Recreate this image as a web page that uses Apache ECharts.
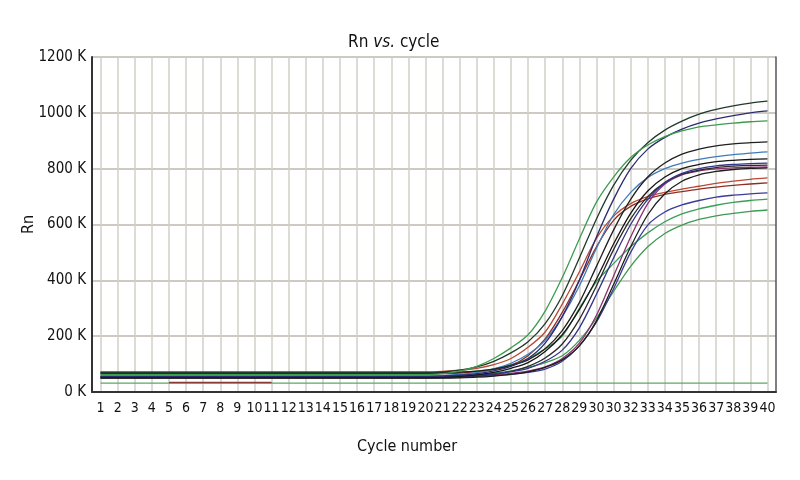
<!DOCTYPE html>
<html>
<head>
<meta charset="utf-8">
<script src="https://cdn.jsdelivr.net/npm/echarts@6/dist/echarts.min.js"></script>
<style>
  html, body { margin: 0; padding: 0; background: #fff; }
  #main { width: 800px; height: 480px; }
</style>
</head>
<body>
<div id="main"></div>
<script>
var myChart = echarts.init(document.getElementById('main'));

// cycles and tick labels (the reference prints "30" twice)
var cycles = [];
for (var i = 1; i <= 40; i++) cycles.push(i);
var xLabels = ['1','2','3','4','5','6','7','8','9','10','11','12','13','14','15','16','17','18','19','20',
  '21','22','23','24','25','26','27','28','29','30','30','32','33','34','35','36','37','38','39','40'];
var yTicks = [0, 200, 400, 600, 800, 1000, 1200];

// Rn values in K, cycles 1..20 are the flat baseline
var greenA = [62,62,62,62,62,62,62,62,62,62,62,62,62,62,62,62,62,62,62,62,
  66,75,92,120,158,205,290,410,548,680,770,840,885,915,935,950,957,963,968,971];
var blackA = [70,70,70,70,70,70,70,70,70,70,70,70,70,70,70,70,70,70,70,70,
  72,78,90,110,140,180,245,345,480,620,740,830,893,938,970,995,1012,1025,1035,1042];
var navyA = [55,55,55,55,55,55,55,55,55,55,55,55,55,55,55,55,55,55,55,55,
  57,60,66,76,92,120,175,270,400,555,690,800,870,912,942,963,978,990,1000,1007];
var blackB = [68,68,68,68,68,68,68,68,68,68,68,68,68,68,68,68,68,68,68,68,
  69,71,75,82,95,115,155,220,320,450,580,690,770,820,852,870,882,889,893,896];
var blueA = [57,57,57,57,57,57,57,57,57,57,57,57,57,57,57,57,57,57,57,57,
  59,63,70,83,103,135,185,270,380,515,635,715,768,800,820,833,843,850,856,860];
var blackC = [52,52,52,52,52,52,52,52,52,52,52,52,52,52,52,52,52,52,52,52,
  53,56,61,70,85,105,145,205,295,405,530,640,720,770,800,815,825,830,833,835];
var navyB = [55,55,55,55,55,55,55,55,55,55,55,55,55,55,55,55,55,55,55,55,
  55,57,60,65,73,85,110,150,230,350,480,600,690,750,783,800,810,815,818,820];
var blackD = [50,50,50,50,50,50,50,50,50,50,50,50,50,50,50,50,50,50,50,50,
  51,53,57,63,74,92,122,172,260,380,510,620,700,750,780,795,804,809,812,813];
var magenta = [56,56,56,56,56,56,56,56,56,56,56,56,56,56,56,56,56,56,56,56,
  56,57,59,62,67,75,90,120,175,275,415,555,675,745,778,792,799,803,805,806];
var redA = [72,72,72,72,72,72,72,72,72,72,72,72,72,72,72,72,72,72,72,72,
  74,78,85,98,120,160,215,315,430,550,630,675,700,715,727,737,747,755,762,767];
var darkRedB = [65,65,65,65,65,65,65,65,65,65,65,65,65,65,65,65,65,65,65,65,
  66,68,72,80,95,130,190,285,400,520,615,665,692,708,718,727,734,740,745,749];
var navyC = [53,53,53,53,53,53,53,53,53,53,53,53,53,53,53,53,53,53,53,53,
  53,54,56,59,63,70,82,110,165,250,370,500,598,645,670,686,698,705,710,713];
var greenB = [66,66,66,66,66,66,66,66,66,66,66,66,66,66,66,66,66,66,66,66,
  67,70,75,83,98,120,155,200,300,395,460,520,570,610,638,656,669,679,686,691];
var greenC = [58,58,58,58,58,58,58,58,58,58,58,58,58,58,58,58,58,58,58,58,
  58,60,63,68,76,88,105,130,185,265,360,450,520,568,598,618,631,640,647,652];
var blackE = [50,50,50,50,50,50,50,50,50,50,50,50,50,50,50,50,50,50,50,50,
  50,51,53,57,63,72,88,115,165,255,385,520,635,710,755,778,790,797,801,803];
var flatGreen = [32,32,32,32,32,32,32,32,32,32,32,32,32,32,32,32,32,32,32,32,
  32,32,32,32,32,32,32,32,32,32,32,32,32,32,32,32,32,32,32,32];
var redSegment = [null,null,null,null,34,34,34,34,34,34,34,null,null,null,null,null,null,null,null,null,
  null,null,null,null,null,null,null,null,null,null,null,null,null,null,null,null,null,null,null,null];

var curves = [
  { data: flatGreen, color: '#5fa862' },
  { data: redSegment, color: '#8a3a34' },
  { data: greenC, color: '#3f9a52' },
  { data: greenB, color: '#3a9d58' },
  { data: navyC, color: '#3b3b98' },
  { data: darkRedB, color: '#8e2f26' },
  { data: redA, color: '#b84a33' },
  { data: magenta, color: '#8e306f' },
  { data: blackE, color: '#1c1c1c' },
  { data: blackD, color: '#2a2a2a' },
  { data: navyB, color: '#34348a' },
  { data: blackC, color: '#161616' },
  { data: blueA, color: '#3f7bb9' },
  { data: blackB, color: '#202020' },
  { data: navyA, color: '#2b2b70' },
  { data: blackA, color: '#1f3a2a' },
  { data: greenA, color: '#3c9c4e' }
];

var font = "'Liberation Sans Narrow', 'DejaVu Sans Condensed', 'Roboto', sans-serif";

var option = {
  animation: false,
  backgroundColor: '#fff',
  title: {
    text: 'Rn {i|vs.} cycle',
    left: 343,
    top: 29,
    textStyle: {
      fontFamily: font, fontSize: 17, fontWeight: 'normal', color: '#111',
      rich: { i: { fontFamily: font, fontSize: 17, fontStyle: 'italic', color: '#111' } }
    }
  },
  grid: { left: 92, right: 24, top: 57, bottom: 88 },
  xAxis: {
    type: 'value',
    min: 0.5,
    max: 40.5,
    name: 'Cycle number',
    nameLocation: 'middle',
    nameGap: 47,
    nameTextStyle: { fontFamily: font, fontSize: 16, color: '#111', padding: [0, 54, 0, 0] },
    axisLine: { show: true, lineStyle: { color: '#333', width: 2 } },
    axisTick: { show: false, customValues: cycles },
    axisLabel: {
      customValues: cycles,
      margin: 9,
      fontFamily: font, fontSize: 14, color: '#111',
      formatter: function (v) { return xLabels[v - 1]; }
    },
    splitLine: { show: true, lineStyle: { color: '#d2cfc8', width: 1.5 } }
  },
  yAxis: [
    {
      type: 'value',
      min: 0,
      max: 1200,
      interval: 200,
      name: 'Rn',
      nameLocation: 'middle',
      nameGap: 55,
      nameMoveOverlap: false,
      nameTextStyle: { fontFamily: font, fontSize: 16, color: '#111' },
      axisLine: { show: true, lineStyle: { color: '#333', width: 2 } },
      axisTick: { show: false },
      axisLabel: {
        margin: 6,
        fontFamily: font, fontSize: 15, color: '#111',
        formatter: function (v) { return yTicks.indexOf(v) >= 0 ? v + ' K' : ''; }
      },
      splitLine: { show: true, lineStyle: { color: '#bcb9b1', width: 1.5 } }
    },
    {
      type: 'value',
      min: 0,
      max: 1200,
      interval: 200,
      position: 'right',
      axisLine: { show: true, lineStyle: { color: '#555', width: 1.5 } },
      axisTick: { show: false },
      axisLabel: { show: false },
      splitLine: { show: false }
    }
  ],
  series: curves.map(function (c) {
    return {
      type: 'line',
      yAxisIndex: 0,
      showSymbol: false,
      smooth: 0.3,
      connectNulls: false,
      lineStyle: { color: c.color, width: 1.3 },
      data: cycles.map(function (x, i) { return [x, c.data[i]]; })
    };
  })
};

myChart.setOption(option);
</script>
</body>
</html>
